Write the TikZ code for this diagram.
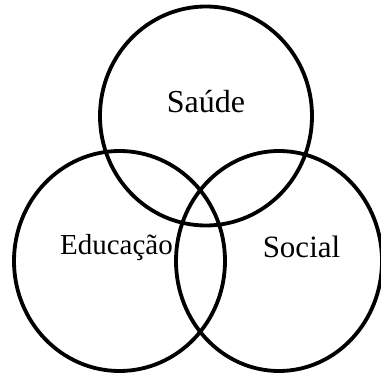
\documentclass[tikz,border=0pt]{standalone}
\usepackage{fontspec}
\setmainfont{Liberation Serif}
\begin{document}
\begin{tikzpicture}[x=1pt,y=-1pt,
  ring/.style={draw=black,line width=3.8pt},
  lbl/.style={anchor=base,inner sep=0pt}]
\useasboundingbox (0,0) rectangle (381,374);
\fill[white] (0,0) rectangle (381,374);
\coordinate (cs) at (206,116);
\coordinate (ce) at (119.5,261);
\coordinate (co) at (279,261);
\draw[ring] (cs) ellipse [x radius=106pt, y radius=109.5pt];
\draw[ring] (ce) ellipse [x radius=105.5pt, y radius=110pt];
\draw[ring] (co) ellipse [x radius=103pt, y radius=110pt];
\node[lbl,font=\fontsize{32}{38}\selectfont] (saude) at (206,113) {Saúde};
\node[lbl,font=\fontsize{29}{35}\selectfont] (educ) at (116.5,255) {Educação};
\node[lbl,font=\fontsize{31}{37}\selectfont] (social) at (301.5,258) {Social};
\end{tikzpicture}
\end{document}
